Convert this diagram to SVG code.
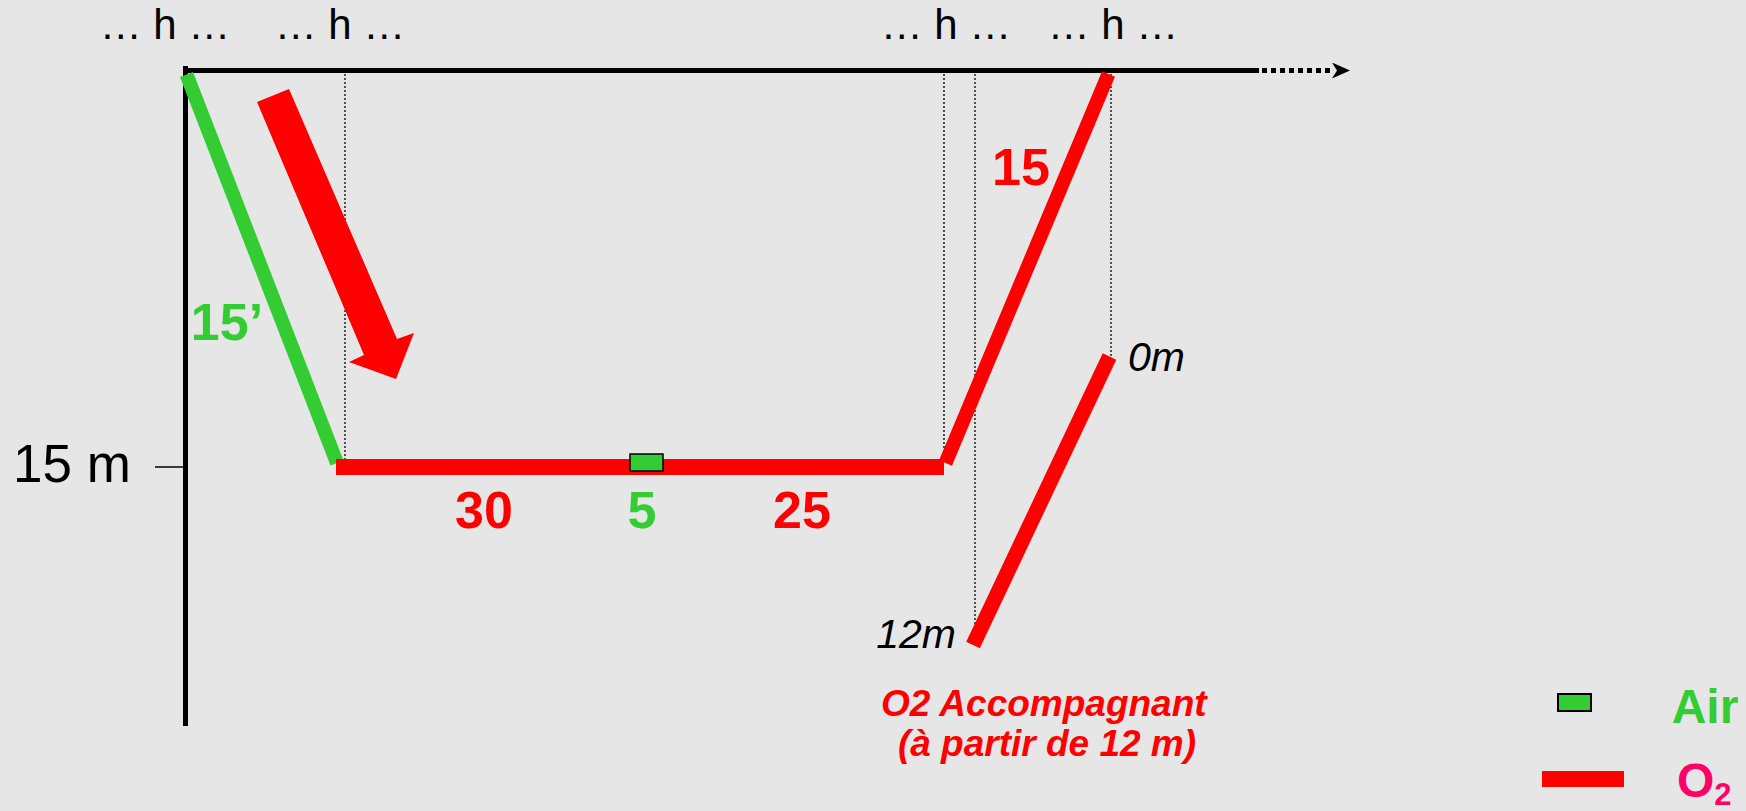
<svg xmlns="http://www.w3.org/2000/svg" width="1746" height="811" viewBox="0 0 1746 811">
<style>
.lbl{font-family:"Liberation Sans",Arial,sans-serif;fill:#000;font-size:42px}
.num{font-family:"Liberation Sans",Arial,sans-serif;font-weight:bold;font-size:52px;text-anchor:middle}
.it{font-family:"Liberation Sans",Arial,sans-serif;font-style:italic;font-size:41px;fill:#000}
.red{fill:#ff0000}
.green{fill:#33cc33}
.dot{stroke:#000;stroke-width:1.3;stroke-dasharray:2 2;fill:none}
.o2{stroke:#ff0000;fill:none}
</style>
<defs>
<marker id="ah" markerWidth="20" markerHeight="18" refX="0" refY="8" orient="auto" markerUnits="userSpaceOnUse">
<path d="M0,0 L18,8 L0,16 L5,8 Z" fill="#000"/>
</marker>
</defs>
<rect width="1746" height="811" fill="#e6e6e6"/>

<g id="axes">
<line x1="185.5" y1="66" x2="185.5" y2="726" stroke="#000" stroke-width="5"/>
<line x1="183" y1="70.5" x2="1259" y2="70.5" stroke="#000" stroke-width="5"/>
<line x1="1262" y1="70.5" x2="1332" y2="70.5" stroke="#000" stroke-width="5" stroke-dasharray="5 4" marker-end="url(#ah)"/>
<line x1="155" y1="467" x2="183" y2="467" stroke="#000" stroke-width="1.5"/>
<text class="lbl" x="13" y="482" style="font-size:53px">15 m</text>
</g>

<g id="time-labels">
<text class="lbl" x="165" y="39" text-anchor="middle">… h …</text>
<text class="lbl" x="340" y="39" text-anchor="middle">… h …</text>
<text class="lbl" x="946" y="39" text-anchor="middle">… h …</text>
<text class="lbl" x="1113" y="39" text-anchor="middle">… h …</text>
</g>

<g id="connectors">
<line class="dot" x1="345" y1="70" x2="345" y2="462"/>
<line class="dot" x1="944" y1="70" x2="944" y2="462"/>
<line class="dot" x1="975" y1="70" x2="975" y2="645"/>
<line class="dot" x1="1111" y1="70" x2="1111" y2="356"/>
<line x1="186.5" y1="74.5" x2="337" y2="463" stroke="#33cc33" stroke-width="14"/>
<line class="o2" x1="336" y1="467" x2="944" y2="467" stroke-width="16"/>
<line class="o2" x1="945.5" y1="463" x2="1108.5" y2="74" stroke-width="14"/>
<line class="o2" x1="1109.5" y1="356.5" x2="973" y2="645" stroke-width="15"/>
</g>

<g id="descent-arrow">
<polygon points="257,102 289,89 397,339 414,333 396,379 349,362 364,355" fill="#ff0000"/>
</g>

<g id="air-stop">
<rect x="630" y="454" width="33" height="17" fill="#33cc33" stroke="#000" stroke-width="1.5"/>
</g>

<g id="values">
<text class="num green" x="227" y="340">15’</text>
<text class="num red" x="1021" y="185">15</text>
<text class="num red" x="484" y="528">30</text>
<text class="num green" x="642" y="528">5</text>
<text class="num red" x="802" y="528">25</text>
<text class="it" x="1128" y="371">0m</text>
<text class="it" x="956" y="648" text-anchor="end">12m</text>
</g>

<g id="accompagnant-note">
<text font-family="Liberation Sans, Arial, sans-serif" font-weight="bold" font-style="italic" font-size="37" fill="#ff0000" text-anchor="middle">
<tspan x="1049" y="716">O2 Accompagnant</tspan>
<tspan x="1047" y="756">(à partir de 12 m)</tspan>
</text>
</g>

<g id="legend">
<rect x="1558" y="694" width="33" height="17" fill="#33cc33" stroke="#000" stroke-width="2"/>
<text class="num green" x="1705" y="723" style="font-size:48px">Air</text>
<rect x="1542" y="771" width="82" height="16" fill="#ff0000"/>
<text font-family="Liberation Sans, Arial, sans-serif" font-weight="bold" font-size="48" fill="#ff0066" x="1677" y="797">O<tspan font-size="31" dy="8">2</tspan></text>
</g>
</svg>
